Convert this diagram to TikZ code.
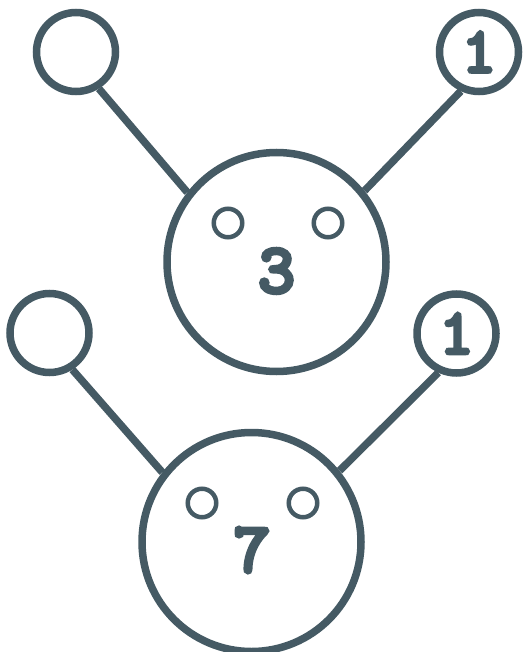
\documentclass[tikz,border=0pt]{standalone}
\usepackage{fontspec}
\usepackage{tikz}
\usetikzlibrary{positioning}
\definecolor{slate}{HTML}{455A64}
\newfontfamily\digitfont[FakeBold=6]{lmmono10-regular.otf}

\begin{document}
\begin{tikzpicture}[x=1pt,y=-1pt,
    every node/.style={draw=slate,circle,inner sep=0pt},
    head/.style={line width=7.5pt,minimum size=219pt},
    ear/.style={line width=7.5pt,minimum size=79pt,font=\fontsize{64}{64}\selectfont\digitfont,text=slate},
    eye/.style={line width=4.5pt,minimum size=28.5pt},
    num/.style={draw=none,font=\fontsize{70}{70}\selectfont\digitfont,text=slate}]
				\useasboundingbox (0,0) rectangle (523,652);
				% upper face
				\node[head] (h1) at (276.5,262) {};
				\node[ear] (l1) at (76,52) {};
				\node[ear] (r1) at (479,52) {1};
				\node[eye] (e1a) at (228,223) {};
				\node[eye] (e1b) at (328,223) {};
				\node[num] (n1) at (276.5,271) {3};
				% lower face
				\node[head] (h2) at (251.5,542) {};
				\node[ear] (l2) at (49.5,333) {};
				\node[ear] (r2) at (456.5,333.5) {1};
				\node[eye] (e2a) at (202,503) {};
				\node[eye] (e2b) at (303,503) {};
				\node[num] (n2) at (252,550) {7};
				\draw[slate,line width=7.5pt] (l1.-58) -- (h1.142)
					  (r1.-115) -- (h1.39)
					  (l2.-58) -- (h2.142)
					  (r2.-115) -- (h2.39);
			\end{tikzpicture}
\end{document}
